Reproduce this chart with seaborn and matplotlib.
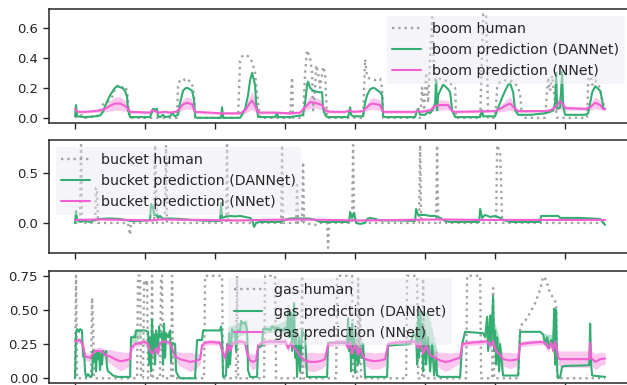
import numpy as np
import pandas as pd
import matplotlib
matplotlib.use("Agg")
import matplotlib.pyplot as plt
import seaborn as sns

# ---------------- data (x = sample index, y = value) ----------------
xticks = [0, 1000, 2000, 3000, 4000, 5000, 6000, 7000]

boom_human = [
    (0, 0.01), (43, 0.0), (100, 0.02), (143, 0.0), (214, 0.01), (286, 0.0), (329, 0.02),
    (357, 0.05), (400, 0.09), (429, 0.10), (471, 0.11), (500, 0.12), (543, 0.15), (571, 0.20),
    (600, 0.21), (643, 0.22), (686, 0.20), (714, 0.21), (743, 0.18), (757, 0.10), (786, 0.0),
    (1457, 0.0), (1471, 0.22), (1500, 0.25), (1543, 0.26), (1571, 0.25), (1600, 0.26),
    (1643, 0.24), (1671, 0.23), (1700, 0.15), (1714, 0.0), (2329, 0.0), (2357, 0.38),
    (2386, 0.41), (2429, 0.42), (2471, 0.41), (2500, 0.40), (2529, 0.37), (2571, 0.30),
    (2586, 0.22), (2614, 0.10), (2643, 0.0), (3071, 0.0), (3100, 0.27), (3114, 0.0),
    (3257, 0.0), (3286, 0.30), (3314, 0.45), (3357, 0.40), (3386, 0.30), (3400, 0.05),
    (3429, 0.20), (3443, 0.35), (3471, 0.30), (3500, 0.20), (3543, 0.34), (3571, 0.30),
    (3600, 0.0), (4114, 0.0), (4143, 0.39), (4171, 0.27), (4214, 0.26), (4286, 0.25),
    (4357, 0.26), (4386, 0.20), (4400, 0.0), (4929, 0.0), (4957, 0.20), (4986, 0.05),
    (5014, 0.30), (5043, 0.10), (5071, 0.40), (5100, 0.67), (5129, 0.30), (5157, 0.20),
    (5171, 0.25), (5214, 0.26), (5286, 0.25), (5357, 0.23), (5429, 0.20), (5443, 0.0),
    (5786, 0.0), (5829, 0.69), (5871, 0.69), (5900, 0.0), (6000, 0.0), (6029, 0.20),
    (6071, 0.24), (6143, 0.25), (6214, 0.25), (6286, 0.23), (6329, 0.20), (6357, 0.15),
    (6386, 0.0), (6714, 0.0), (6757, 0.27), (6786, 0.18), (6814, 0.28), (6857, 0.10),
    (6886, 0.0), (7314, 0.0), (7329, 0.25), (7357, 0.30), (7386, 0.22), (7429, 0.25),
    (7471, 0.22), (7500, 0.20), (7529, 0.10), (7571, 0.08),
]

boom_dannet = [
    (0, 0.01), (14, 0.085), (29, 0.01), (143, 0.005), (286, 0.01), (357, 0.015), (400, 0.04),
    (429, 0.08), (471, 0.12), (500, 0.15), (543, 0.18), (571, 0.20), (600, 0.21), (643, 0.205),
    (686, 0.195), (714, 0.18), (743, 0.14), (757, 0.05), (786, 0.005), (1071, 0.005),
    (1100, 0.04), (1114, 0.06), (1143, 0.055), (1171, 0.06), (1186, 0.01), (1214, 0.005),
    (1257, 0.02), (1286, 0.005), (1357, 0.01), (1386, 0.03), (1429, 0.01), (1471, 0.02),
    (1500, 0.10), (1543, 0.18), (1571, 0.195), (1600, 0.20), (1643, 0.19), (1671, 0.18),
    (1700, 0.12), (1714, 0.01), (1743, 0.0), (2086, 0.0), (2100, 0.07), (2114, 0.0),
    (2357, 0.0), (2386, 0.02), (2429, 0.06), (2471, 0.15), (2500, 0.25), (2529, 0.30),
    (2571, 0.22), (2586, 0.10), (2614, 0.005), (2857, 0.005), (2886, 0.03), (2900, 0.005),
    (3071, 0.005), (3143, 0.01), (3214, 0.015), (3257, 0.02), (3286, 0.10), (3314, 0.22),
    (3329, 0.24), (3357, 0.20), (3400, 0.18), (3443, 0.175), (3500, 0.17), (3529, 0.17),
    (3543, 0.06), (3571, 0.02), (3600, 0.005), (3900, 0.005), (3929, 0.07), (3943, 0.02),
    (3971, 0.01), (4114, 0.01), (4143, 0.10), (4171, 0.15), (4214, 0.19), (4257, 0.20),
    (4286, 0.195), (4329, 0.18), (4357, 0.17), (4386, 0.15), (4400, 0.01), (4429, 0.005),
    (4857, 0.005), (4886, 0.05), (4900, 0.06), (4929, 0.02), (5000, 0.02), (5043, 0.04),
    (5071, 0.03), (5114, 0.06), (5143, 0.10), (5157, 0.25), (5171, 0.05), (5186, 0.15),
    (5214, 0.18), (5257, 0.22), (5286, 0.21), (5329, 0.19), (5357, 0.17), (5386, 0.05),
    (5429, 0.005), (5786, 0.005), (5814, 0.05), (5829, 0.01), (6000, 0.01), (6029, 0.05),
    (6071, 0.10), (6114, 0.15), (6143, 0.18), (6186, 0.22), (6214, 0.23), (6257, 0.17),
    (6286, 0.05), (6329, 0.02), (6500, 0.02), (6714, 0.03), (6786, 0.04), (6829, 0.05),
    (6857, 0.10), (6871, 0.30), (6886, 0.06), (6929, 0.07), (6957, 0.31), (6971, 0.08),
    (7000, 0.02), (7286, 0.02), (7329, 0.03), (7357, 0.10), (7386, 0.17), (7429, 0.21),
    (7457, 0.20), (7500, 0.18), (7529, 0.12), (7543, 0.065), (7571, 0.06),
]

# (x, mean, spread)
boom_nnet = [
    (0, 0.06, 0.01), (14, 0.05, 0.008), (43, 0.04, 0.008), (143, 0.04, 0.008),
    (286, 0.045, 0.008), (357, 0.05, 0.012), (429, 0.06, 0.02), (500, 0.08, 0.035),
    (571, 0.095, 0.045), (643, 0.095, 0.045), (714, 0.08, 0.035), (757, 0.06, 0.02),
    (786, 0.04, 0.01), (1071, 0.035, 0.008), (1100, 0.05, 0.012), (1143, 0.045, 0.008),
    (1186, 0.035, 0.008), (1286, 0.04, 0.008), (1357, 0.035, 0.008), (1429, 0.04, 0.008),
    (1471, 0.05, 0.015), (1543, 0.09, 0.035), (1600, 0.10, 0.04), (1671, 0.09, 0.035),
    (1714, 0.04, 0.01), (2100, 0.03, 0.008), (2357, 0.03, 0.008), (2429, 0.05, 0.02),
    (2500, 0.10, 0.05), (2529, 0.115, 0.06), (2571, 0.08, 0.04), (2614, 0.035, 0.01),
    (2857, 0.035, 0.008), (3071, 0.03, 0.008), (3214, 0.035, 0.008), (3286, 0.07, 0.025),
    (3357, 0.105, 0.04), (3429, 0.10, 0.035), (3529, 0.085, 0.03), (3571, 0.05, 0.015),
    (3643, 0.04, 0.008), (3857, 0.04, 0.008), (3929, 0.05, 0.008), (3971, 0.04, 0.008),
    (4114, 0.045, 0.008), (4214, 0.09, 0.035), (4257, 0.095, 0.04), (4357, 0.085, 0.035),
    (4400, 0.04, 0.01), (4857, 0.04, 0.008), (4900, 0.05, 0.008), (4929, 0.04, 0.008),
    (5071, 0.05, 0.015), (5143, 0.08, 0.03), (5214, 0.085, 0.035), (5329, 0.085, 0.03),
    (5386, 0.045, 0.01), (5429, 0.04, 0.008), (6000, 0.045, 0.008), (6071, 0.06, 0.02),
    (6143, 0.08, 0.035), (6214, 0.095, 0.045), (6286, 0.06, 0.02), (6329, 0.045, 0.01),
    (6714, 0.045, 0.008), (6786, 0.05, 0.008), (6857, 0.07, 0.025), (6900, 0.095, 0.04),
    (6929, 0.11, 0.05), (6971, 0.09, 0.04), (7000, 0.065, 0.015), (7286, 0.06, 0.01),
    (7357, 0.07, 0.02), (7429, 0.10, 0.04), (7500, 0.085, 0.03), (7543, 0.06, 0.01),
    (7571, 0.058, 0.01),
]

bucket_human = [
    (0, 0.0), (71, 0.0), (86, 0.78), (100, 0.0), (286, 0.0), (300, 0.35), (314, 0.35),
    (329, 0.0), (757, 0.0), (786, -0.12), (800, 0.0), (1129, 0.0), (1143, 0.78), (1157, 0.30),
    (1171, 0.0), (1286, 0.0), (1300, 0.78), (1314, 0.0), (2157, 0.0), (2171, 0.78),
    (2186, 0.0), (2943, 0.0), (2957, 0.78), (2971, 0.0), (3157, 0.0), (3171, 0.38),
    (3186, 0.0), (3243, 0.0), (3257, 0.61), (3271, 0.0), (3429, -0.02), (3471, 0.0),
    (3600, 0.0), (3614, -0.25), (3629, 0.0), (3957, 0.0), (3971, 0.78), (3986, 0.0),
    (4914, 0.0), (4929, 0.78), (4943, 0.0), (5157, 0.0), (5171, 0.78), (5186, 0.05),
    (5214, 0.0), (6014, 0.0), (6029, 0.78), (6071, 0.70), (6100, 0.05), (6114, 0.0),
    (7571, 0.0),
]

bucket_dannet = [
    (0, 0.0), (14, 0.12), (29, 0.03), (71, 0.01), (143, 0.02), (214, 0.01), (286, 0.03),
    (357, 0.04), (500, 0.045), (643, 0.04), (714, 0.03), (786, 0.02), (929, 0.02),
    (1071, 0.03), (1086, 0.19), (1114, 0.15), (1129, 0.08), (1171, 0.09), (1186, 0.05),
    (1214, 0.07), (1257, 0.04), (1357, 0.045), (1500, 0.04), (1643, 0.03), (1786, 0.025),
    (1929, 0.02), (2071, 0.02), (2086, 0.20), (2100, 0.05), (2143, 0.06), (2214, 0.07),
    (2286, 0.065), (2357, 0.07), (2429, 0.06), (2500, 0.05), (2529, 0.03), (2557, -0.04),
    (2586, 0.0), (2643, 0.01), (2929, 0.01), (3000, 0.03), (3071, 0.045), (3214, 0.045),
    (3357, 0.043), (3429, 0.03), (3500, 0.01), (3914, 0.01), (3929, 0.11), (3957, 0.05),
    (3986, 0.10), (4014, 0.0), (4071, -0.01), (4143, 0.0), (4171, 0.04), (4214, 0.05),
    (4286, 0.04), (4357, 0.025), (4643, 0.025), (4857, 0.02), (4871, 0.14), (4900, 0.08),
    (5000, 0.08), (5071, 0.07), (5143, 0.07), (5214, 0.05), (5286, 0.02), (5357, 0.01),
    (5771, 0.01), (5786, 0.14), (5814, 0.05), (5857, 0.08), (5929, 0.06), (6000, 0.07),
    (6071, 0.05), (6114, 0.03), (6214, 0.01), (6643, 0.01), (6657, 0.07), (6786, 0.07),
    (6900, 0.07), (6929, 0.05), (7214, 0.05), (7357, 0.045), (7500, 0.04), (7543, 0.0),
    (7571, -0.02),
]

bucket_nnet = [
    (0, 0.03, 0.006), (357, 0.035, 0.006), (786, 0.03, 0.006), (1071, 0.025, 0.006),
    (1214, 0.035, 0.006), (1786, 0.03, 0.006), (2357, 0.025, 0.006), (2643, 0.03, 0.006),
    (3214, 0.035, 0.006), (3643, 0.03, 0.006), (4071, 0.025, 0.006), (4643, 0.03, 0.006),
    (5214, 0.035, 0.006), (5786, 0.03, 0.006), (6357, 0.03, 0.006), (6929, 0.03, 0.006),
    (7571, 0.03, 0.006),
]

gas_human = [
    (0, 0.0), (14, 0.75), (29, 0.0), (229, 0.0), (243, 0.59), (257, 0.40), (271, 0.0),
    (886, 0.0), (900, 0.75), (929, 0.75), (943, 0.0), (971, 0.0), (986, 0.72), (1014, 0.68),
    (1029, 0.72), (1043, 0.0), (1086, 0.0), (1100, 0.75), (1114, 0.0), (1214, 0.0),
    (1229, 0.75), (1243, 0.75), (1257, 0.0), (1371, 0.0), (1386, 0.75), (1400, 0.0),
    (1843, 0.0), (1857, 0.75), (2100, 0.75), (2114, 0.0), (2300, 0.0), (2314, 0.75),
    (2329, 0.0), (2700, 0.0), (2714, 0.75), (2857, 0.75), (2871, 0.0), (3229, 0.0),
    (3243, 0.75), (3257, 0.0), (3729, 0.0), (3743, 0.75), (3957, 0.75), (3971, 0.0),
    (4029, 0.0), (4043, 0.73), (4057, 0.10), (4071, 0.50), (4086, 0.0), (4729, 0.0),
    (4743, 0.75), (4886, 0.75), (4900, 0.0), (4957, 0.0), (4971, 0.73), (4986, 0.0),
    (5586, 0.0), (5600, 0.75), (5786, 0.75), (5800, 0.0), (5957, 0.0), (5971, 0.66),
    (5986, 0.0), (6329, 0.0), (6357, 0.38), (6429, 0.42), (6500, 0.48), (6571, 0.55),
    (6643, 0.65), (6686, 0.745), (6729, 0.72), (6786, 0.62), (6829, 0.59), (6871, 0.55),
    (6886, 0.0), (7571, 0.0),
]

gas_dannet = [
    (0, 0.0), (14, 0.33), (29, 0.36), (57, 0.34), (71, 0.36), (100, 0.35), (114, 0.16),
    (129, 0.20), (143, 0.05), (157, 0.01), (186, 0.03), (214, 0.01), (243, 0.02), (257, 0.20),
    (271, 0.12), (286, 0.18), (300, 0.05), (314, 0.20), (329, 0.14), (343, 0.19), (357, 0.06),
    (371, 0.18), (386, 0.10), (400, 0.20), (429, 0.17), (443, 0.20), (457, 0.08), (471, 0.05),
    (500, 0.04), (543, 0.02), (614, 0.01), (786, 0.01), (800, 0.30), (857, 0.30), (871, 0.35),
    (1000, 0.35), (1043, 0.34), (1057, 0.10), (1071, 0.30), (1086, 0.05), (1100, 0.43),
    (1114, 0.20), (1129, 0.32), (1143, 0.10), (1157, 0.35), (1186, 0.22), (1200, 0.38),
    (1214, 0.30), (1243, 0.33), (1257, 0.10), (1271, 0.40), (1286, 0.15), (1300, 0.33),
    (1329, 0.30), (1357, 0.35), (1371, 0.12), (1386, 0.26), (1429, 0.25), (1443, 0.05),
    (1471, 0.02), (1500, 0.0), (1714, 0.0), (1743, 0.28), (1814, 0.28), (1829, 0.35),
    (2071, 0.35), (2086, 0.38), (2100, 0.30), (2114, 0.01), (2157, 0.02), (2171, 0.25),
    (2186, 0.08), (2200, 0.33), (2214, 0.10), (2243, 0.36), (2286, 0.33), (2300, 0.20),
    (2314, 0.35), (2357, 0.35), (2371, 0.42), (2400, 0.40), (2429, 0.41), (2457, 0.36),
    (2471, 0.06), (2500, 0.01), (2600, 0.01), (2614, 0.22), (2671, 0.24), (2686, 0.36),
    (2757, 0.36), (2786, 0.35), (2814, 0.38), (2857, 0.36), (2900, 0.37), (2929, 0.36),
    (2971, 0.35), (3000, 0.37), (3029, 0.35), (3043, 0.50), (3057, 0.30), (3086, 0.48),
    (3100, 0.20), (3129, 0.55), (3143, 0.15), (3157, 0.35), (3171, 0.01), (3200, 0.30),
    (3214, 0.05), (3243, 0.35), (3286, 0.30), (3314, 0.01), (3600, 0.01), (3614, 0.26),
    (3857, 0.26), (3886, 0.25), (3900, 0.44), (3914, 0.20), (3929, 0.35), (3943, 0.05),
    (3957, 0.40), (3971, 0.15), (3986, 0.30), (4000, 0.04), (4014, 0.25), (4043, 0.10),
    (4071, 0.22), (4100, 0.15), (4114, 0.25), (4143, 0.01), (4457, 0.01), (4471, 0.24),
    (4786, 0.25), (4829, 0.32), (4871, 0.32), (4886, 0.10), (4900, 0.45), (4914, 0.15),
    (4929, 0.49), (4943, 0.20), (4957, 0.40), (4971, 0.05), (5000, 0.35), (5014, 0.10),
    (5043, 0.30), (5071, 0.05), (5100, 0.25), (5129, 0.02), (5157, 0.15), (5171, 0.02),
    (5214, 0.01), (5500, 0.01), (5529, 0.25), (5571, 0.34), (5829, 0.33), (5857, 0.30),
    (5886, 0.45), (5900, 0.20), (5929, 0.46), (5943, 0.25), (5971, 0.60), (5986, 0.20),
    (6000, 0.35), (6014, 0.10), (6029, 0.30), (6057, 0.05), (6071, 0.25), (6100, 0.08),
    (6114, 0.02), (6329, 0.02), (6357, 0.34), (6643, 0.34), (6686, 0.32), (6714, 0.25),
    (6743, 0.30), (6771, 0.22), (6800, 0.28), (6829, 0.25), (6843, 0.51), (6857, 0.10),
    (6871, 0.50), (6886, 0.05), (6900, 0.0), (6929, 0.01), (6957, 0.085), (7000, 0.09),
    (7343, 0.095), (7357, 0.40), (7371, 0.10), (7386, 0.02), (7571, 0.01),
]

# spread of DANNet in its noisiest stretches: lists of (x, low, high)
gas_dannet_band = [
    [(800, 0.26, 0.31), (857, 0.26, 0.34), (943, 0.30, 0.36)],
    [(2186, 0.28, 0.38), (2300, 0.30, 0.40), (2457, 0.33, 0.43)],
    [(2686, 0.33, 0.38), (2900, 0.34, 0.40), (3100, 0.30, 0.45)],
    [(3886, 0.24, 0.30), (3957, 0.22, 0.42), (4071, 0.15, 0.30), (4114, 0.15, 0.26)],
    [(4829, 0.30, 0.34), (4914, 0.26, 0.50), (5043, 0.20, 0.48), (5129, 0.10, 0.30),
     (5171, 0.05, 0.20)],
    [(5857, 0.30, 0.34), (5971, 0.30, 0.45), (6057, 0.15, 0.30), (6114, 0.03, 0.10)],
    [(6686, 0.30, 0.33), (6800, 0.24, 0.32), (6871, 0.25, 0.45)],
]

gas_nnet = [
    (0, 0.27, 0.02), (71, 0.28, 0.02), (114, 0.24, 0.03), (143, 0.16, 0.03), (214, 0.15, 0.03),
    (257, 0.18, 0.03), (286, 0.20, 0.02), (357, 0.20, 0.03), (400, 0.19, 0.03),
    (429, 0.17, 0.04), (500, 0.16, 0.05), (571, 0.14, 0.06), (643, 0.125, 0.07),
    (714, 0.13, 0.06), (786, 0.14, 0.05), (800, 0.22, 0.03), (857, 0.25, 0.02),
    (929, 0.26, 0.02), (1000, 0.265, 0.02), (1043, 0.25, 0.02), (1071, 0.20, 0.03),
    (1114, 0.18, 0.04), (1157, 0.22, 0.03), (1186, 0.18, 0.03), (1214, 0.26, 0.02),
    (1286, 0.27, 0.02), (1357, 0.26, 0.02), (1400, 0.20, 0.03), (1429, 0.16, 0.04),
    (1500, 0.14, 0.05), (1571, 0.13, 0.06), (1643, 0.12, 0.07), (1714, 0.125, 0.06),
    (1786, 0.14, 0.04), (1814, 0.24, 0.02), (1857, 0.26, 0.02), (1929, 0.265, 0.02),
    (2071, 0.26, 0.02), (2100, 0.20, 0.03), (2143, 0.15, 0.04), (2186, 0.25, 0.03),
    (2214, 0.20, 0.04), (2257, 0.26, 0.02), (2357, 0.27, 0.02), (2429, 0.26, 0.02),
    (2457, 0.18, 0.04), (2500, 0.13, 0.05), (2543, 0.12, 0.06), (2586, 0.13, 0.05),
    (2614, 0.24, 0.02), (2671, 0.26, 0.02), (2786, 0.27, 0.02), (2929, 0.265, 0.02),
    (3000, 0.27, 0.02), (3043, 0.22, 0.03), (3086, 0.26, 0.02), (3129, 0.22, 0.03),
    (3171, 0.20, 0.03), (3214, 0.16, 0.04), (3286, 0.13, 0.06), (3357, 0.12, 0.07),
    (3429, 0.12, 0.07), (3500, 0.125, 0.06), (3571, 0.14, 0.05), (3614, 0.25, 0.02),
    (3714, 0.26, 0.02), (3857, 0.265, 0.02), (3900, 0.22, 0.03), (3929, 0.27, 0.03),
    (3957, 0.18, 0.04), (4000, 0.25, 0.03), (4043, 0.17, 0.04), (4071, 0.22, 0.03),
    (4114, 0.16, 0.04), (4143, 0.14, 0.05), (4214, 0.13, 0.06), (4286, 0.125, 0.06),
    (4357, 0.13, 0.06), (4429, 0.14, 0.05), (4471, 0.25, 0.02), (4571, 0.26, 0.02),
    (4714, 0.265, 0.02), (4857, 0.27, 0.02), (4900, 0.22, 0.03), (4929, 0.27, 0.03),
    (4971, 0.18, 0.04), (5014, 0.24, 0.03), (5071, 0.17, 0.04), (5143, 0.15, 0.05),
    (5214, 0.13, 0.06), (5286, 0.12, 0.07), (5357, 0.125, 0.06), (5429, 0.14, 0.05),
    (5500, 0.15, 0.04), (5529, 0.25, 0.02), (5643, 0.26, 0.02), (5786, 0.265, 0.02),
    (5886, 0.27, 0.02), (5929, 0.24, 0.03), (5971, 0.27, 0.03), (6014, 0.20, 0.04),
    (6071, 0.17, 0.04), (6114, 0.14, 0.05), (6214, 0.13, 0.06), (6286, 0.135, 0.05),
    (6329, 0.14, 0.05), (6357, 0.25, 0.02), (6500, 0.26, 0.02), (6643, 0.265, 0.02),
    (6714, 0.26, 0.02), (6757, 0.22, 0.03), (6800, 0.26, 0.02), (6829, 0.20, 0.03),
    (6857, 0.27, 0.03), (6886, 0.20, 0.04), (6900, 0.15, 0.05), (6929, 0.14, 0.06),
    (7343, 0.14, 0.06), (7357, 0.26, 0.03), (7371, 0.15, 0.05), (7429, 0.12, 0.06),
    (7500, 0.14, 0.05), (7571, 0.145, 0.04),
]

# ---------------- style ----------------
GRAY = "#a3a3a3"
GREEN = "#34ad72"
PINK = "#f25fd0"

sns.set_theme(style="ticks", rc={
    "axes.edgecolor": "#262626",
    "axes.linewidth": 1.1,
    "xtick.major.size": 4,
    "ytick.major.size": 4,
    "xtick.major.width": 1.0,
    "ytick.major.width": 1.0,
    "xtick.color": "#262626",
    "ytick.color": "#262626",
    "ytick.labelsize": 9.5,
    "xtick.labelsize": 9.5,
    "legend.fontsize": 10.2,
})
plt.rcParams["font.family"] = ["DejaVu Sans"]

fig = plt.figure(figsize=(6.27, 3.85), dpi=100)
ax1 = fig.add_axes([0.0774, 0.6805, 0.930, 0.2961])
ax2 = fig.add_axes([0.0774, 0.3429, 0.930, 0.2935])
ax3 = fig.add_axes([0.0774, 0.0042, 0.930, 0.2927])


def panel(ax, name, human, dannet, nnet, loc, band=None):
    hx, hy = zip(*human)
    dx, dy = zip(*dannet)
    nx, ny, ne = (np.array(v) for v in zip(*nnet))
    sns.lineplot(x=list(hx), y=list(hy), ax=ax, color=GRAY, linestyle=":", linewidth=1.7,
                 estimator=None, label=f"{name} human")
    if band is not None:
        for seg in band:
            bx, blo, bhi = zip(*seg)
            ax.fill_between(bx, blo, bhi, color=GREEN, alpha=0.35, linewidth=0)
    sns.lineplot(x=list(dx), y=list(dy), ax=ax, color=GREEN, linewidth=1.5,
                 estimator=None, label=f"{name} prediction (DANNet)")
    ax.fill_between(nx, ny - ne, ny + ne, color=PINK, alpha=0.35, linewidth=0)
    sns.lineplot(x=nx, y=ny, ax=ax, color=PINK, linewidth=1.5,
                 estimator=None, label=f"{name} prediction (NNet)")
    ax.set_xticks(xticks)
    ax.set_xticklabels([])
    ax.set_xlabel("")
    ax.set_ylabel("")
    leg = ax.legend(loc=loc, frameon=True, facecolor="#EAEAF2", edgecolor="#EAEAF2",
                    framealpha=0.45, fontsize=10.2)
    leg.get_frame().set_linewidth(0)


panel(ax1, "boom", boom_human, boom_dannet, boom_nnet, "upper right")
ax1.set_yticks([0.0, 0.2, 0.4, 0.6])
panel(ax2, "bucket", bucket_human, bucket_dannet, bucket_nnet, "upper left")
ax2.set_yticks([0.0, 0.5])
panel(ax3, "gas", gas_human, gas_dannet, gas_nnet, "upper center", band=gas_dannet_band)
ax3.set_yticks([0.0, 0.25, 0.5, 0.75])

fig.savefig("out.png", dpi=100)
